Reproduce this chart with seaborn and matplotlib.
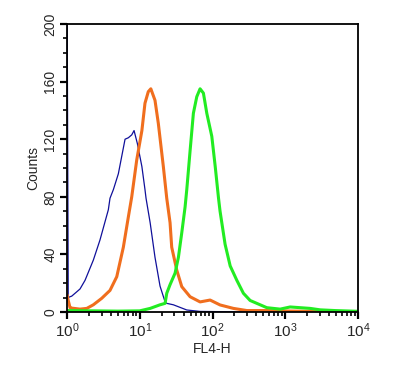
import numpy as np
import pandas as pd
import seaborn as sns
from matplotlib import pyplot as plt
from matplotlib.ticker import LogLocator, MultipleLocator, NullFormatter

# FL4-H histogram values
blue_x = [1.0, 1.04, 1.10, 1.16, 1.36, 1.51, 1.77, 2.30, 2.84, 3.70, 3.90, 4.34, 5.08,
          6.28, 6.97, 7.76, 8.35, 9.27, 10.7, 11.8, 12.2, 13.9, 16.2, 19.0, 22.3, 23.5,
          29.0, 44.3, 67.5, 150, 330]
blue_y = [240, 10, 10.6, 11, 14, 16, 22, 36, 50, 71, 79, 85, 96,
          120, 121, 123, 126, 117, 101, 85, 79, 62, 38, 18, 7, 6,
          5, 1.4, 0.4, 0.2, 0]

orange_x = [1.0, 1.04, 1.10, 1.16, 1.51, 1.87, 2.30, 3.00, 3.90, 4.83, 5.95, 6.97, 7.76,
            9.09, 10.7, 11.8, 13.1, 14.2, 16.2, 18.0, 21.1, 23.5, 26.1, 27.5, 32.3, 37.8,
            49.2, 67.5, 92.7, 127, 194, 297, 558, 1000, 2000, 3000, 5000, 10000]
orange_y = [12, 8, 3, 2.7, 2, 2.5, 5, 9.5, 15, 24.5, 45, 66, 80,
            105.6, 126, 145, 153, 155, 147, 131, 101, 79, 62, 45, 29, 17.6,
            10.6, 7, 8.3, 4.9, 2.5, 1, 1, 0.7, 0.5, 0.3, 0.2, 0]

green_x = [1.0, 5.0, 10.0, 13.9, 19.0, 22.3, 23.5, 26.1, 30.6, 34.0, 37.8, 42.0, 44.3,
           49.2, 54.6, 60.8, 67.5, 75.0, 83.5, 97.8, 109, 121, 127, 149, 175, 216,
           266, 329, 452, 558, 851, 1168, 1603, 2200, 3020, 4860, 9770]
green_y = [1, 0.6, 0.8, 2.5, 5, 6, 13, 19, 27, 38, 55, 73, 85,
           112, 138, 149.5, 155, 152, 138, 122, 101, 79, 70, 47, 32, 22,
           13, 8, 5, 3, 2, 3.5, 3, 2.5, 1.5, 1, 0.5]

y_ticks = [0, 40, 80, 120, 160, 200]
x_ticks = [1, 10, 100, 1000, 10000]
x_labels = ['$10^{0}$', '$10^{1}$', '$10^{2}$', '$10^{3}$', '$10^{4}$']

sns.set_style("ticks")
plt.rcParams['font.family'] = ['Liberation Sans', 'DejaVu Sans']
plt.rcParams['mathtext.fontset'] = 'custom'
plt.rcParams['mathtext.rm'] = 'Liberation Sans'
plt.rcParams['mathtext.it'] = 'Liberation Sans'
plt.rcParams['mathtext.default'] = 'regular'

fig = plt.figure(figsize=(3.95, 3.75), dpi=100)
ax = fig.add_axes([67/395, 1-312/375, (358-67)/395, (312-24)/375])

df_b = pd.DataFrame({'x': blue_x, 'y': blue_y})
df_o = pd.DataFrame({'x': orange_x, 'y': orange_y})
df_g = pd.DataFrame({'x': green_x, 'y': green_y})

sns.lineplot(data=df_b, x='x', y='y', ax=ax, color='#10109a', linewidth=0.9,
             estimator=None, sort=False)
sns.lineplot(data=df_o, x='x', y='y', ax=ax, color='#f06e1e', linewidth=2.2,
             estimator=None, sort=False)
sns.lineplot(data=df_g, x='x', y='y', ax=ax, color='#22ec22', linewidth=2.2,
             estimator=None, sort=False)

ax.set_xscale('log')
ax.set_xlim(1, 10000)
ax.set_ylim(0, 200)

ax.set_xticks(x_ticks)
ax.set_xticklabels(x_labels, fontsize=11)
ax.xaxis.set_minor_locator(LogLocator(base=10, subs=np.arange(2, 10)))
ax.xaxis.set_minor_formatter(NullFormatter())

ax.set_yticks(y_ticks)
ax.set_yticklabels([str(v) for v in y_ticks], fontsize=10, rotation=90, va='center')
ax.yaxis.set_minor_locator(MultipleLocator(10))

ax.tick_params(axis='both', which='major', direction='out', length=5, width=1.6,
               color='black', pad=2)
ax.tick_params(axis='both', which='minor', direction='out', length=3, width=1.2,
               color='black')
ax.tick_params(top=False, right=False)

for s in ax.spines.values():
    s.set_linewidth(1.3)
    s.set_color('black')
    s.set_visible(True)

ax.set_xlabel('FL4-H', fontsize=10, labelpad=1)
ax.set_ylabel('Counts', fontsize=10, labelpad=2)

fig.savefig('out.png', dpi=100, facecolor='white')
